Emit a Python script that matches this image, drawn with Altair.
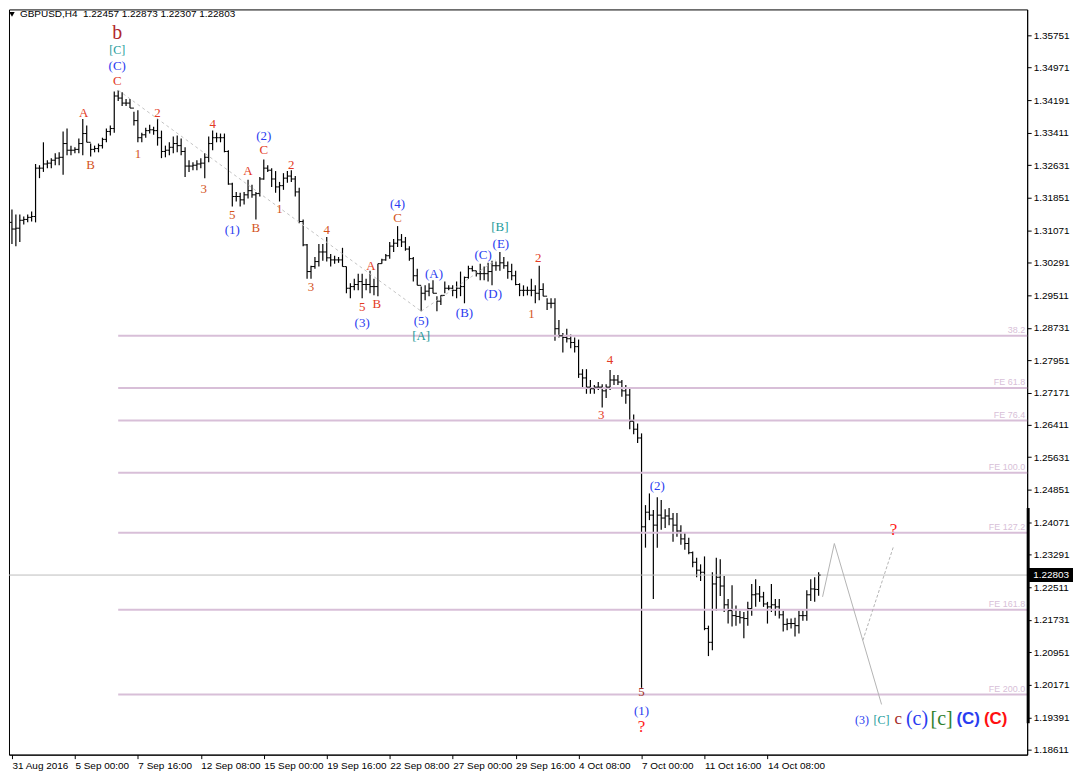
import json
import altair as alt
import pandas as pd

W, H = 1022, 748
X_DOMAIN = [-0.75, 258.0]
Y_DOMAIN = [1.18497, 1.36366]

# ---------------- OHLC (H4 bars, index 0 = 31 Aug 2016) ----------------
bar_index = list(range(206))

open_ = [1.3126, 1.3110, 1.3112, 1.3131, 1.3133, 1.3138, 1.3140, 1.3256, 1.3256, 1.3266,
         1.3268, 1.3275, 1.3280, 1.3282, 1.3315, 1.3299, 1.3299, 1.3301, 1.3315, 1.3339,
         1.3318, 1.3301, 1.3303, 1.3310, 1.3325, 1.3344, 1.3351, 1.3429, 1.3424, 1.3412,
         1.3412, 1.3400, 1.3370, 1.3329, 1.3336, 1.3346, 1.3348, 1.3346, 1.3329, 1.3296,
         1.3299, 1.3306, 1.3315, 1.3310, 1.3296, 1.3261, 1.3261, 1.3263, 1.3266, 1.3268,
         1.3282, 1.3315, 1.3329, 1.3329, 1.3329, 1.3296, 1.3218, 1.3188, 1.3188, 1.3180,
         1.3192, 1.3202, 1.3192, 1.3195, 1.3230, 1.3256, 1.3251, 1.3230, 1.3211, 1.3214,
         1.3232, 1.3237, 1.3230, 1.3199, 1.3128, 1.3072, 1.3008, 1.3020, 1.3032, 1.3055,
         1.3055, 1.3041, 1.3036, 1.3036, 1.3036, 1.3020, 1.2968, 1.2972, 1.2977, 1.2984,
         1.2977, 1.2977, 1.2972, 1.2972, 1.3027, 1.3036, 1.3046, 1.3069, 1.3076, 1.3084,
         1.3079, 1.3062, 1.3039, 1.2998, 1.2975, 1.2956, 1.2961, 1.2968, 1.2956, 1.2937,
         1.2951, 1.2968, 1.2968, 1.2963, 1.2968, 1.2972, 1.2994, 1.3015, 1.3010, 1.3003,
         1.3003, 1.3003, 1.3008, 1.3022, 1.3022, 1.3029, 1.3022, 1.3008, 1.2998, 1.2977,
         1.2963, 1.2963, 1.2963, 1.2963, 1.2956, 1.2965, 1.2949, 1.2932, 1.2932, 1.2871,
         1.2854, 1.2850, 1.2847, 1.2838, 1.2828, 1.2762, 1.2753, 1.2731, 1.2727, 1.2731,
         1.2731, 1.2722, 1.2731, 1.2748, 1.2748, 1.2743, 1.2722, 1.2712, 1.2649, 1.2630,
         1.2609, 1.2396, 1.2431, 1.2424, 1.2400, 1.2424, 1.2417, 1.2422, 1.2415, 1.2400,
         1.2386, 1.2367, 1.2356, 1.2334, 1.2311, 1.2292, 1.2287, 1.2152, 1.2119, 1.2259,
         1.2275, 1.2254, 1.2209, 1.2195, 1.2183, 1.2181, 1.2178, 1.2176, 1.2200, 1.2233,
         1.2235, 1.2228, 1.2211, 1.2204, 1.2209, 1.2204, 1.2185, 1.2162, 1.2164, 1.2164,
         1.2159, 1.2183, 1.2183, 1.2233, 1.2247, 1.22457]

high = [1.3157, 1.3145, 1.3145, 1.3140, 1.3145, 1.3152, 1.3266, 1.3263, 1.3318, 1.3275,
        1.3280, 1.3292, 1.3294, 1.3344, 1.3351, 1.3310, 1.3306, 1.3327, 1.3374, 1.3358,
        1.3315, 1.3310, 1.3315, 1.3329, 1.3351, 1.3358, 1.3440, 1.3443, 1.3438, 1.3422,
        1.3422, 1.3391, 1.3395, 1.3341, 1.3353, 1.3360, 1.3355, 1.3374, 1.3346, 1.3310,
        1.3318, 1.3332, 1.3334, 1.3327, 1.3306, 1.3275, 1.3270, 1.3275, 1.3280, 1.3292,
        1.3332, 1.3346, 1.3341, 1.3339, 1.3339, 1.3299, 1.3221, 1.3199, 1.3197, 1.3199,
        1.3228, 1.3216, 1.3199, 1.3235, 1.3277, 1.3263, 1.3256, 1.3249, 1.3223, 1.3244,
        1.3249, 1.3251, 1.3237, 1.3209, 1.3133, 1.3074, 1.3022, 1.3043, 1.3074, 1.3074,
        1.3091, 1.3050, 1.3046, 1.3043, 1.3065, 1.3020, 1.2980, 1.2991, 1.3003, 1.3003,
        1.2991, 1.3010, 1.2991, 1.3027, 1.3039, 1.3050, 1.3079, 1.3086, 1.3117, 1.3098,
        1.3091, 1.3069, 1.3043, 1.3015, 1.2972, 1.2975, 1.2980, 1.2987, 1.2949, 1.2951,
        1.2984, 1.2975, 1.2975, 1.2984, 1.3008, 1.2996, 1.3022, 1.3022, 1.3010, 1.3027,
        1.3020, 1.3029, 1.3034, 1.3032, 1.3055, 1.3043, 1.3032, 1.3027, 1.3010, 1.2980,
        1.2975, 1.2972, 1.2991, 1.2975, 1.3022, 1.2980, 1.2944, 1.2944, 1.2944, 1.2892,
        1.2861, 1.2871, 1.2857, 1.2850, 1.2845, 1.2774, 1.2774, 1.2748, 1.2736, 1.2743,
        1.2738, 1.2738, 1.2772, 1.2760, 1.2760, 1.2748, 1.2736, 1.2731, 1.2665, 1.2644,
        1.2620, 1.2448, 1.2476, 1.2436, 1.2467, 1.2460, 1.2438, 1.2441, 1.2429, 1.2429,
        1.2400, 1.2382, 1.2370, 1.2337, 1.2322, 1.2306, 1.2325, 1.2159, 1.2287, 1.2322,
        1.2318, 1.2278, 1.2223, 1.2256, 1.2207, 1.2195, 1.2192, 1.2216, 1.2259, 1.2270,
        1.2254, 1.2240, 1.2216, 1.2259, 1.2223, 1.2223, 1.2195, 1.2176, 1.2176, 1.2178,
        1.2195, 1.2195, 1.2244, 1.2270, 1.2275, 1.22873]

low = [1.3074, 1.3069, 1.3079, 1.3121, 1.3126, 1.3128, 1.3126, 1.3232, 1.3247, 1.3256,
       1.3256, 1.3263, 1.3263, 1.3240, 1.3287, 1.3287, 1.3292, 1.3292, 1.3287, 1.3318,
       1.3284, 1.3294, 1.3294, 1.3303, 1.3318, 1.3334, 1.3341, 1.3417, 1.3405, 1.3405,
       1.3400, 1.3358, 1.3318, 1.3318, 1.3329, 1.3339, 1.3336, 1.3310, 1.3280, 1.3282,
       1.3287, 1.3292, 1.3294, 1.3287, 1.3235, 1.3247, 1.3251, 1.3251, 1.3256, 1.3232,
       1.3270, 1.3299, 1.3318, 1.3318, 1.3294, 1.3216, 1.3164, 1.3176, 1.3164, 1.3169,
       1.3183, 1.3185, 1.3133, 1.3188, 1.3228, 1.3247, 1.3211, 1.3197, 1.3176, 1.3204,
       1.3221, 1.3223, 1.3188, 1.3124, 1.3069, 1.2991, 1.2991, 1.3015, 1.3020, 1.3034,
       1.3032, 1.3020, 1.3027, 1.3029, 1.3020, 1.2956, 1.2944, 1.2963, 1.2963, 1.2944,
       1.2963, 1.2956, 1.2951, 1.2949, 1.3027, 1.3034, 1.3039, 1.3055, 1.3067, 1.3067,
       1.3058, 1.3034, 1.2984, 1.2975, 1.2913, 1.2939, 1.2949, 1.2956, 1.2913, 1.2928,
       1.2956, 1.2963, 1.2949, 1.2944, 1.2949, 1.2932, 1.2991, 1.3008, 1.2996, 1.2987,
       1.2987, 1.2984, 1.2975, 1.3010, 1.3010, 1.3015, 1.2991, 1.2987, 1.2975, 1.2949,
       1.2949, 1.2951, 1.2949, 1.2932, 1.2939, 1.2949, 1.2916, 1.2920, 1.2842, 1.2850,
       1.2814, 1.2838, 1.2824, 1.2814, 1.2753, 1.2731, 1.2715, 1.2715, 1.2715, 1.2724,
       1.2682, 1.2705, 1.2724, 1.2736, 1.2736, 1.2708, 1.2691, 1.2630, 1.2618, 1.2597,
       1.2010, 1.2346, 1.2412, 1.2223, 1.2346, 1.2389, 1.2393, 1.2400, 1.2360, 1.2372,
       1.2353, 1.2341, 1.2330, 1.2299, 1.2275, 1.2266, 1.2148, 1.2086, 1.2100, 1.2195,
       1.2230, 1.2192, 1.2164, 1.2157, 1.2159, 1.2164, 1.2129, 1.2159, 1.2183, 1.2204,
       1.2216, 1.2204, 1.2164, 1.2192, 1.2183, 1.2176, 1.2145, 1.2148, 1.2152, 1.2133,
       1.2140, 1.2171, 1.2171, 1.2218, 1.2216, 1.22307]

close = [1.3110, 1.3112, 1.3131, 1.3133, 1.3138, 1.3140, 1.3256, 1.3256, 1.3266, 1.3268,
         1.3275, 1.3280, 1.3282, 1.3315, 1.3299, 1.3299, 1.3301, 1.3315, 1.3339, 1.3318,
         1.3301, 1.3303, 1.3310, 1.3325, 1.3344, 1.3351, 1.3429, 1.3424, 1.3412, 1.3412,
         1.3400, 1.3370, 1.3329, 1.3336, 1.3346, 1.3348, 1.3346, 1.3329, 1.3296, 1.3299,
         1.3306, 1.3315, 1.3310, 1.3296, 1.3261, 1.3261, 1.3263, 1.3266, 1.3268, 1.3282,
         1.3315, 1.3329, 1.3329, 1.3329, 1.3296, 1.3218, 1.3188, 1.3188, 1.3180, 1.3192,
         1.3202, 1.3192, 1.3195, 1.3230, 1.3256, 1.3251, 1.3230, 1.3211, 1.3214, 1.3232,
         1.3237, 1.3230, 1.3199, 1.3128, 1.3072, 1.3008, 1.3020, 1.3032, 1.3055, 1.3055,
         1.3041, 1.3036, 1.3036, 1.3036, 1.3020, 1.2968, 1.2972, 1.2977, 1.2984, 1.2977,
         1.2977, 1.2972, 1.2972, 1.3027, 1.3036, 1.3046, 1.3069, 1.3076, 1.3084, 1.3079,
         1.3062, 1.3039, 1.2998, 1.2975, 1.2956, 1.2961, 1.2968, 1.2956, 1.2937, 1.2951,
         1.2968, 1.2968, 1.2963, 1.2968, 1.2972, 1.2994, 1.3015, 1.3010, 1.3003, 1.3003,
         1.3003, 1.3008, 1.3022, 1.3022, 1.3029, 1.3022, 1.3008, 1.2998, 1.2977, 1.2963,
         1.2963, 1.2963, 1.2963, 1.2956, 1.2965, 1.2949, 1.2932, 1.2932, 1.2871, 1.2854,
         1.2850, 1.2847, 1.2838, 1.2828, 1.2762, 1.2753, 1.2731, 1.2727, 1.2731, 1.2731,
         1.2722, 1.2731, 1.2748, 1.2748, 1.2743, 1.2722, 1.2712, 1.2649, 1.2630, 1.2609,
         1.2396, 1.2431, 1.2424, 1.2400, 1.2424, 1.2417, 1.2422, 1.2415, 1.2400, 1.2386,
         1.2367, 1.2356, 1.2334, 1.2311, 1.2292, 1.2287, 1.2152, 1.2119, 1.2259, 1.2275,
         1.2254, 1.2209, 1.2195, 1.2183, 1.2181, 1.2178, 1.2176, 1.2200, 1.2233, 1.2235,
         1.2228, 1.2211, 1.2204, 1.2209, 1.2204, 1.2185, 1.2162, 1.2164, 1.2164, 1.2159,
         1.2183, 1.2183, 1.2233, 1.2247, 1.2246, 1.22803]

# ---------------- axes ----------------
x_tick_index = [0, 16, 32, 48, 64, 80, 96, 112, 128, 144, 160, 176, 192]
x_tick_labels = ["31 Aug 2016", "5 Sep 00:00", "7 Sep 16:00", "12 Sep 08:00", "15 Sep 00:00",
                 "19 Sep 16:00", "22 Sep 08:00", "27 Sep 00:00", "29 Sep 16:00", "4 Oct 08:00",
                 "7 Oct 00:00", "11 Oct 16:00", "14 Oct 08:00"]
y_tick_values = [1.35751, 1.34971, 1.34191, 1.33411, 1.32631, 1.31851, 1.31071, 1.30291,
                 1.29511, 1.28731, 1.27951, 1.27171, 1.26411, 1.25631, 1.24851, 1.24071,
                 1.23291, 1.22511, 1.21731, 1.20951, 1.20171, 1.19391, 1.18611]

header_text = "GBPUSD,H4\u00a0\u00a01.22457 1.22873 1.22307 1.22803"
last_price = 1.22803
last_price_text = "1.22803"
side_bar_top, side_bar_bottom = 1.2441, 1.1925

# ---------------- Fibonacci levels ----------------
fib_names = ["38.2", "FE 61.8", "FE 76.4", "FE 100.0", "FE 127.2", "FE 161.8", "FE 200.0"]
fib_levels = [1.28542, 1.27289, 1.26509, 1.25257, 1.23815, 1.21971, 1.19938]
fib_start = 27

# ---------------- trend / projection lines ----------------
trend_seg = ["a", "a", "b", "b"]
trend_i = [27, 104, 104, 123]
trend_p = [1.3443, 1.2913, 1.2913, 1.3036]

proj_i = [206, 209, 221]
proj_p = [1.2228, 1.2356, 1.1970]
projd_i = [216.25, 224]
projd_p = [1.2124, 1.2348]

# ---------------- wave labels ----------------
RED, ORANGE, BLUE, TEAL = "#E33A24", "#D4541C", "#2A3CF0", "#1A9A9A"
BCOL, DARKRED, QRED, BROWN, GREEN = "#B0282E", "#A03028", "#FF1A1A", "#A52A2A", "#2F7F2F"

wave_text = ["b", "[C]", "(C)", "C", "A", "B", "2", "1", "4", "3",
             "(2)", "C", "A", "2", "5", "(1)", "B", "1", "4", "3",
             "(4)", "C", "A", "5", "B", "(3)", "(A)", "(5)", "[A]", "(B)",
             "(C)", "[B]", "(E)", "(D)", "2", "1", "4", "3", "(2)", "5",
             "(1)", "?", "?", "(3)", "[C]", "c", "(c)", "[c]"]
wave_i = [26.75, 26.75, 26.75, 26.75, 18.25, 20, 37, 32, 51, 48.75,
          64, 64, 60, 71, 56, 56, 62, 68, 80, 76,
          98, 98, 91.25, 89, 92.75, 89, 107.25, 104, 104, 115,
          119.75, 124, 124.25, 122.25, 133.75, 132, 152, 149.75, 164, 160,
          160, 160, 224, 216, 221, 225.25, 230, 236.25]
wave_p = [1.3580, 1.3540, 1.3502, 1.3466, 1.3388, 1.3263, 1.3388, 1.3289, 1.3362, 1.3206,
          1.3332, 1.3299, 1.3249, 1.3263, 1.3143, 1.3107, 1.3112, 1.3159, 1.3107, 1.2972,
          1.3169, 1.3136, 1.3022, 1.2923, 1.2930, 1.2885, 1.3003, 1.2890, 1.2854, 1.2909,
          1.3048, 1.3114, 1.3074, 1.2954, 1.3041, 1.2906, 1.2795, 1.2663, 1.2495, 1.1999,
          1.1954, 1.1916, 1.2389, 1.1932, 1.1932, 1.1934, 1.1934, 1.1934]
wave_color = [BCOL, TEAL, BLUE, RED, RED, ORANGE, RED, ORANGE, RED, ORANGE,
              BLUE, RED, RED, RED, ORANGE, BLUE, ORANGE, ORANGE, ORANGE, ORANGE,
              BLUE, ORANGE, RED, RED, RED, BLUE, BLUE, BLUE, TEAL, BLUE,
              BLUE, TEAL, BLUE, BLUE, RED, ORANGE, RED, RED, BLUE, DARKRED,
              BLUE, QRED, QRED, BLUE, TEAL, BROWN, BLUE, GREEN]
wave_size = [20, 12, 13, 13, 13, 13, 13, 13, 13, 13,
             13, 13, 13, 13, 13, 13, 13, 13, 13, 13,
             13, 13, 13, 13, 13, 13, 13, 13, 13, 13,
             13, 13, 13, 13, 13, 13, 13, 13, 13, 13,
             13, 17, 17, 12, 12, 17, 20, 20]

bold_text = ["(C)", "(C)"]
bold_i = [243, 250]
bold_p = [1.1934, 1.1934]
bold_color = [BLUE, "#FF1010"]

# ---------------- build ----------------
xs = alt.Scale(domain=X_DOMAIN, nice=False, zero=False)
ys = alt.Scale(domain=Y_DOMAIN, nice=False, zero=False)

idx_js = "[" + ",".join(str(v) for v in x_tick_index) + "]"
lab_js = "[" + ",".join(json.dumps(s) for s in x_tick_labels) + "]"
x_axis = alt.Axis(values=x_tick_index, labelExpr=f"{lab_js}[indexof({idx_js}, datum.value)]",
                  tickSize=4, labelAlign="left", labelPadding=2, labelFlush=False,
                  labelOverlap=False, grid=False, title=None, orient="bottom",
                  labelFont="Liberation Sans", labelFontSize=10, labelColor="black",
                  tickColor="black", domainColor="black")
y_axis = alt.Axis(orient="right", values=y_tick_values, format=".5f", tickSize=4,
                  labelPadding=2, labelFlush=False, labelOverlap=False, grid=False, title=None,
                  labelFont="Liberation Sans", labelFontSize=10, labelColor="black",
                  tickColor="black", domainColor="black")


def X(field):
    return alt.X(field, scale=xs, axis=x_axis)


def Y(field):
    return alt.Y(field, scale=ys, axis=y_axis)


bars = pd.DataFrame({"i": bar_index, "open": open_, "high": high, "low": low, "close": close})
base = alt.Chart(bars)
hl = base.mark_rule(color="black", strokeWidth=1.2).encode(
    x=X("i:Q"), y=Y("low:Q"), y2="high:Q")
op = base.mark_rule(color="black", strokeWidth=1, xOffset=-2).encode(
    x=X("i:Q"), x2="i:Q", y=Y("open:Q"))
cl = base.mark_rule(color="black", strokeWidth=1, x2Offset=2).encode(
    x=X("i:Q"), x2="i:Q", y=Y("close:Q"))

fib_df = pd.DataFrame({"name": fib_names, "level": fib_levels,
                       "start": [fib_start] * len(fib_levels),
                       "end": [X_DOMAIN[1]] * len(fib_levels)})
fib_rules = alt.Chart(fib_df).mark_rule(color="#D8BFD8", strokeWidth=2).encode(
    x=X("start:Q"), x2="end:Q", y=Y("level:Q"))
fib_text = alt.Chart(fib_df).mark_text(align="right", baseline="bottom", dy=-1, fontSize=9,
                                       font="Liberation Sans", color="#D8BFD8").encode(
    x=alt.value(W - 2), y=Y("level:Q"), text="name:N")

price_df = pd.DataFrame({"p": [last_price], "t": [last_price_text]})
price_line = alt.Chart(price_df).mark_rule(color="#BDBDBD", strokeWidth=1).encode(
    y=Y("p:Q"))

trend_df = pd.DataFrame({"seg": trend_seg, "i": trend_i, "p": trend_p})
trend = alt.Chart(trend_df).mark_line(color="#C4C4C4", strokeDash=[3, 3], strokeWidth=1).encode(
    x=X("i:Q"), y=Y("p:Q"), detail="seg:N")

proj_df = pd.DataFrame({"i": proj_i, "p": proj_p})
proj = alt.Chart(proj_df).mark_line(color="#B4B4B4", strokeWidth=1).encode(
    x=X("i:Q"), y=Y("p:Q"))
projd_df = pd.DataFrame({"i": projd_i, "p": projd_p})
projd = alt.Chart(projd_df).mark_line(color="#B4B4B4", strokeWidth=1, strokeDash=[3, 2]).encode(
    x=X("i:Q"), y=Y("p:Q"))

wave_df = pd.DataFrame({"t": wave_text, "i": wave_i, "p": wave_p, "c": wave_color, "s": wave_size})
waves = alt.Chart(wave_df).mark_text(font="Liberation Serif", baseline="middle", align="center").encode(
    x=X("i:Q"), y=Y("p:Q"),
    text="t:N", color=alt.Color("c:N", scale=None), size=alt.Size("s:Q", scale=None))

bold_df = pd.DataFrame({"t": bold_text, "i": bold_i, "p": bold_p, "c": bold_color})
bolds = alt.Chart(bold_df).mark_text(font="Liberation Sans", fontWeight="bold", fontSize=17,
                                     baseline="middle", align="center").encode(
    x=X("i:Q"), y=Y("p:Q"),
    text="t:N", color=alt.Color("c:N", scale=None))

hdr_df = pd.DataFrame({"t": [header_text]})
hdr = alt.Chart(hdr_df).mark_text(align="left", baseline="middle", font="Liberation Sans",
                                  fontSize=10, color="black").encode(
    x=alt.value(11), y=alt.value(5), text="t:N")
tri = alt.Chart(hdr_df).mark_point(shape="triangle-down", filled=True, size=30, color="black",
                                   opacity=1).encode(x=alt.value(3), y=alt.value(5))

box = alt.Chart(price_df).mark_rect(color="black", yOffset=-7, y2Offset=7).encode(
    x=alt.value(W + 1), x2=alt.value(W + 46), y=Y("p:Q"), y2="p:Q")
box_text = alt.Chart(price_df).mark_text(align="left", baseline="middle", color="white",
                                         font="Liberation Sans", fontSize=10).encode(
    x=alt.value(W + 6), y=Y("p:Q"), text="t:N")

side_df = pd.DataFrame({"a": [side_bar_top], "b": [side_bar_bottom]})
side = alt.Chart(side_df).mark_rule(color="black", strokeWidth=3).encode(
    x=alt.value(W + 1), y=Y("a:Q"), y2="b:Q")

chart = alt.layer(
    hl, fib_rules, fib_text, price_line, trend, proj, projd, op, cl,
    waves, bolds, hdr, tri, side, box, box_text
).properties(width=W, height=H, padding=0).configure_view(
    stroke="black", strokeWidth=1
)

chart.save("out.html", embed_options={"renderer": "svg", "actions": False})
